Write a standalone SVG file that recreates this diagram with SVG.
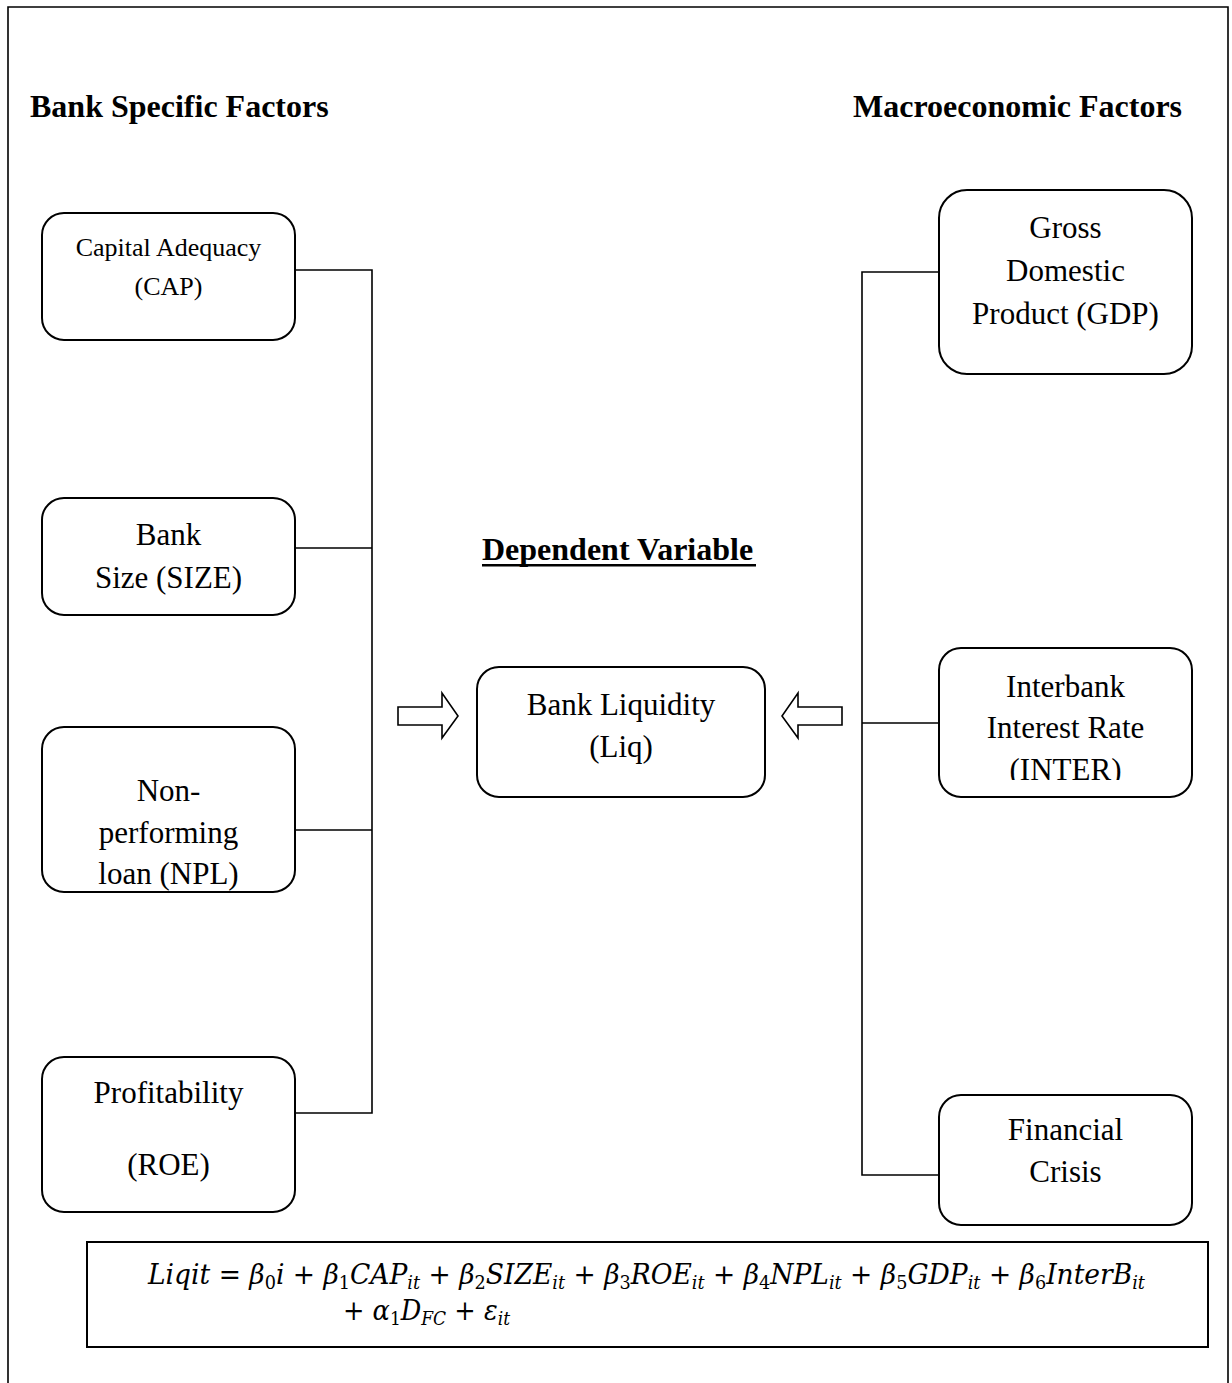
<svg xmlns="http://www.w3.org/2000/svg" width="1232" height="1383" viewBox="0 0 1232 1383">
<style>
.box{fill:#fff;stroke:#000;stroke-width:2}
.ln{fill:none;stroke:#000;stroke-width:1.6}
.t{font-family:"Liberation Serif","Times New Roman",serif;font-size:31px;fill:#000;text-anchor:middle}
.ts{font-size:26px}
.h{font-family:"Liberation Serif","Times New Roman",serif;font-size:32px;font-weight:bold;fill:#000}
.eq{font-family:"DejaVu Serif","Liberation Serif",serif;font-size:27px;fill:#000}
.i{font-style:italic}
.s{font-size:18px}
.si{font-size:18px;font-style:italic}
.arr{fill:#fff;stroke:#000;stroke-width:1.6;stroke-linejoin:miter}
</style>
<defs>
<clipPath id="clipInter"><rect x="939" y="648" width="253" height="132"/></clipPath>
</defs>
<rect width="1232" height="1383" fill="#fff"/>
<path d="M8,1383 V7 H1228 V1383" class="ln" stroke-width="2"/>

<g id="headings">
<text class="h" x="30" y="117">Bank Specific Factors</text>
<text class="h" x="853" y="117">Macroeconomic Factors</text>
<text class="h" x="482" y="560">Dependent Variable</text>
<rect x="482" y="564" width="274" height="2.5" fill="#000"/>
</g>

<g id="connectors">
<path class="ln" d="M295,270 H372 V1113 H295 M295,548 H372 M295,830 H372"/>
<path class="ln" d="M939,272 H862 V1175 H939 M862,723 H939"/>
<path class="arr" d="M398,707 H442 V693 L458,716 L442,738 V725 H398 Z"/>
<path class="arr" d="M842,707 H798 V693 L782,716 L798,738 V725 H842 Z"/>
</g>

<g id="cap">
<rect class="box" x="42" y="213" width="253" height="127" rx="22"/>
<text class="t ts" x="168.5" y="256">Capital Adequacy</text>
<text class="t ts" x="168.5" y="295">(CAP)</text>
</g>
<g id="size">
<rect class="box" x="42" y="498" width="253" height="117" rx="22"/>
<text class="t" x="168.5" y="545">Bank</text>
<text class="t" x="168.5" y="588">Size (SIZE)</text>
</g>
<g id="npl">
<rect class="box" x="42" y="727" width="253" height="165" rx="22"/>
<text class="t" x="168.5" y="801">Non-</text>
<text class="t" x="168.5" y="843">performing</text>
<text class="t" x="168.5" y="884">loan (NPL)</text>
</g>
<g id="roe">
<rect class="box" x="42" y="1057" width="253" height="155" rx="22"/>
<text class="t" x="168.5" y="1103">Profitability</text>
<text class="t" x="168.5" y="1175">(ROE)</text>
</g>

<g id="gdp">
<rect class="box" x="939" y="190" width="253" height="184" rx="28"/>
<text class="t" x="1065.5" y="238">Gross</text>
<text class="t" x="1065.5" y="281">Domestic</text>
<text class="t" x="1065.5" y="324">Product (GDP)</text>
</g>
<g id="inter">
<rect class="box" x="939" y="648" width="253" height="149" rx="22"/>
<g clip-path="url(#clipInter)">
<text class="t" x="1065.5" y="697">Interbank</text>
<text class="t" x="1065.5" y="738">Interest Rate</text>
<text class="t" x="1065.5" y="780">(INTER)</text>
</g>
</g>
<g id="crisis">
<rect class="box" x="939" y="1095" width="253" height="130" rx="22"/>
<text class="t" x="1065.5" y="1140">Financial</text>
<text class="t" x="1065.5" y="1182">Crisis</text>
</g>

<g id="liq">
<rect class="box" x="477" y="667" width="288" height="130" rx="22"/>
<text class="t" x="621" y="715">Bank Liquidity</text>
<text class="t" x="621" y="757">(Liq)</text>
</g>

<g id="formula">
<rect x="87" y="1242" width="1121" height="105" fill="#fff" stroke="#000" stroke-width="2"/>
<text class="eq" x="148" y="1284" textLength="997" lengthAdjust="spacingAndGlyphs"><tspan class="i">Liqit</tspan> = <tspan class="i">β</tspan><tspan class="s" dy="5">0</tspan><tspan class="i" dy="-5">i</tspan> + <tspan class="i">β</tspan><tspan class="s" dy="5">1</tspan><tspan class="i" dy="-5">CAP</tspan><tspan class="si" dy="5">it</tspan><tspan dy="-5"> + </tspan><tspan class="i">β</tspan><tspan class="s" dy="5">2</tspan><tspan class="i" dy="-5">SIZE</tspan><tspan class="si" dy="5">it</tspan><tspan dy="-5"> + </tspan><tspan class="i">β</tspan><tspan class="s" dy="5">3</tspan><tspan class="i" dy="-5">ROE</tspan><tspan class="si" dy="5">it</tspan><tspan dy="-5"> + </tspan><tspan class="i">β</tspan><tspan class="s" dy="5">4</tspan><tspan class="i" dy="-5">NPL</tspan><tspan class="si" dy="5">it</tspan><tspan dy="-5"> + </tspan><tspan class="i">β</tspan><tspan class="s" dy="5">5</tspan><tspan class="i" dy="-5">GDP</tspan><tspan class="si" dy="5">it</tspan><tspan dy="-5"> + </tspan><tspan class="i">β</tspan><tspan class="s" dy="5">6</tspan><tspan class="i" dy="-5">InterB</tspan><tspan class="si" dy="5">it</tspan></text>
<text class="eq" x="343" y="1320" textLength="167" lengthAdjust="spacingAndGlyphs">+ <tspan class="i">α</tspan><tspan class="s" dy="5">1</tspan><tspan class="i" dy="-5">D</tspan><tspan class="si" dy="5">FC</tspan><tspan dy="-5"> + </tspan><tspan class="i">ε</tspan><tspan class="si" dy="5">it</tspan></text>
</g>
</svg>
